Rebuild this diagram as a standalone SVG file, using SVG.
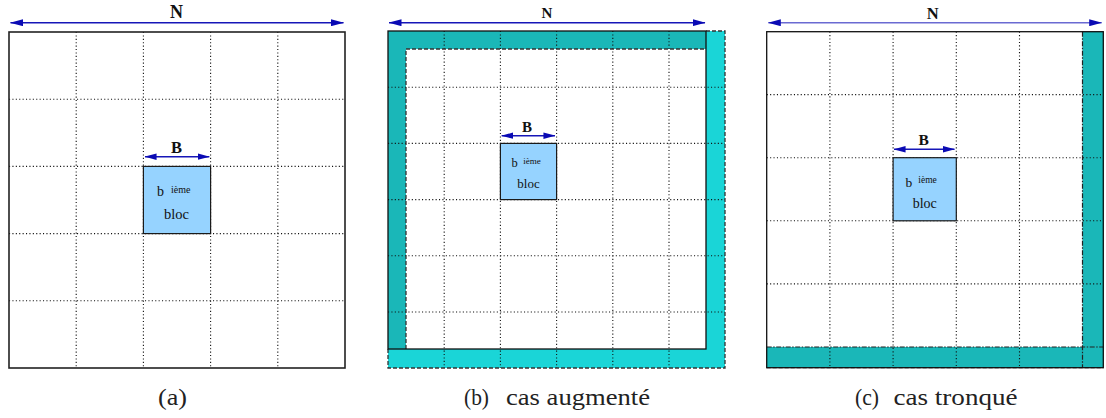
<svg xmlns="http://www.w3.org/2000/svg" width="1106" height="418" viewBox="0 0 1106 418">
<defs>
<marker id="ah" viewBox="0 0 13 7" refX="12.5" refY="3.5" markerWidth="13" markerHeight="7" markerUnits="userSpaceOnUse" orient="auto-start-reverse">
<path d="M0,0 L13,3.5 L0,7 z" fill="#0a0ab4"/>
</marker>
<marker id="ahs" viewBox="0 0 13 7" refX="12.5" refY="3.5" markerWidth="12" markerHeight="6.5" markerUnits="userSpaceOnUse" orient="auto-start-reverse">
<path d="M0,0 L13,3.5 L0,7 z" fill="#0a0ab4"/>
</marker>
</defs>
<style>
.bg{fill:#ffffff}
.grid{stroke:#111;stroke-width:1.1;stroke-dasharray:1.1 2.3;fill:none}
.frame{fill:none;stroke:#222;stroke-width:1.6}
.solid{fill:none;stroke:#111;stroke-width:1.3}
.dash{fill:none;stroke:#333;stroke-width:1.3;stroke-dasharray:4 2}
.dashdot{fill:none;stroke:#222;stroke-width:1.2;stroke-dasharray:5 1.5 1.5 1.5}
.dark{fill:#1ab7b8}
.light{fill:#1ad5d7}
.blk{fill:#96d3ff;stroke:#1a1a1a;stroke-width:1.2}
.arr{stroke:#1616b8;stroke-width:1.6;fill:none;marker-start:url(#ah);marker-end:url(#ah)}
.arrB{stroke:#1616b8;stroke-width:1.6;fill:none;marker-start:url(#ahs);marker-end:url(#ahs)}
.lbl{font-family:"Liberation Serif",serif;font-weight:bold;fill:#111;text-anchor:middle}
.t{font-family:"Liberation Serif",serif;fill:#111}
.cap{font-family:"Liberation Serif",serif;fill:#222;font-size:24px}
</style>
<rect width="1106" height="418" class="bg"/>

<!-- Panel (a) -->
<g id="panel-a">
<g id="grid-a" class="grid">
<line x1="76.2" y1="32" x2="76.2" y2="368"/>
<line x1="143.4" y1="32" x2="143.4" y2="368"/>
<line x1="210.6" y1="32" x2="210.6" y2="368"/>
<line x1="277.8" y1="32" x2="277.8" y2="368"/>
<line x1="9" y1="99.2" x2="345" y2="99.2"/>
<line x1="9" y1="166.4" x2="345" y2="166.4"/>
<line x1="9" y1="233.6" x2="345" y2="233.6"/>
<line x1="9" y1="300.8" x2="345" y2="300.8"/>
</g>
<rect class="frame" x="9" y="32" width="336" height="336"/>
<g id="block-a">
<rect class="blk" x="143.4" y="166.4" width="67.2" height="67.2"/>
<text class="t" x="157" y="196" font-size="14">b</text>
<text class="t" x="171" y="192.5" font-size="10">ième</text>
<text class="t" x="176.5" y="219" font-size="14.5" text-anchor="middle">bloc</text>
</g>
<text class="cap" x="158" y="405" textLength="29" lengthAdjust="spacingAndGlyphs">(a)</text>
</g>

<!-- Panel (b) -->
<g id="panel-b">
<rect class="dark" x="388" y="31" width="318" height="18"/>
<rect class="dark" x="388" y="31" width="18" height="318"/>
<rect class="light" x="706" y="31" width="19" height="337"/>
<rect class="light" x="388" y="349" width="337" height="19"/>
<g id="grid-b" class="grid">
<line x1="444.2" y1="31" x2="444.2" y2="368"/>
<line x1="500.4" y1="31" x2="500.4" y2="368"/>
<line x1="556.6" y1="31" x2="556.6" y2="368"/>
<line x1="612.8" y1="31" x2="612.8" y2="368"/>
<line x1="669" y1="31" x2="669" y2="368"/>
<line x1="388" y1="87.2" x2="725" y2="87.2"/>
<line x1="388" y1="143.4" x2="725" y2="143.4"/>
<line x1="388" y1="199.6" x2="725" y2="199.6"/>
<line x1="388" y1="255.8" x2="725" y2="255.8"/>
<line x1="388" y1="312" x2="725" y2="312"/>
</g>
<path class="dash" d="M406,349 L406,49 L706,49"/>
<path class="dash" d="M706,31 L725,31 L725,368 L388,368 L388,349"/>
<rect class="solid" x="388" y="31" width="318" height="318"/>
<g id="block-b">
<rect class="blk" x="500.4" y="143.4" width="56.2" height="56.2"/>
<text class="t" x="511.5" y="167" font-size="12.5">b</text>
<text class="t" x="523.3" y="163.5" font-size="9">ième</text>
<text class="t" x="528.5" y="187.5" font-size="13" text-anchor="middle">bloc</text>
</g>
<text class="cap" x="464" y="405"><tspan textLength="25" lengthAdjust="spacingAndGlyphs">(b)</tspan><tspan x="506" textLength="144" lengthAdjust="spacingAndGlyphs">cas augmenté</tspan></text>
</g>

<!-- Panel (c) -->
<g id="panel-c">
<rect class="dark" x="1082.5" y="31.7" width="20.8" height="336"/>
<rect class="dark" x="766.7" y="347" width="336.6" height="20.7"/>
<g id="grid-c" class="grid">
<line x1="829.9" y1="31.7" x2="829.9" y2="367.7"/>
<line x1="893.1" y1="31.7" x2="893.1" y2="367.7"/>
<line x1="956.3" y1="31.7" x2="956.3" y2="367.7"/>
<line x1="1019.5" y1="31.7" x2="1019.5" y2="367.7"/>
<line x1="766.7" y1="94.6" x2="1103.3" y2="94.6"/>
<line x1="766.7" y1="157.7" x2="1103.3" y2="157.7"/>
<line x1="766.7" y1="220.8" x2="1103.3" y2="220.8"/>
<line x1="766.7" y1="283.9" x2="1103.3" y2="283.9"/>
</g>
<line class="dashdot" x1="1082.5" y1="31.7" x2="1082.5" y2="367.7"/>
<line class="dashdot" x1="766.7" y1="347" x2="1103.3" y2="347"/>
<line class="dash" x1="766.7" y1="367.7" x2="1103.3" y2="367.7"/>
<rect class="solid" x="766.7" y="31.7" width="336.6" height="336"/>
<g id="block-c">
<rect class="blk" x="893.1" y="157.7" width="63.2" height="63.1"/>
<text class="t" x="905.5" y="187" font-size="13.5">b</text>
<text class="t" x="918.3" y="183" font-size="9.5">ième</text>
<text class="t" x="924.7" y="207.5" font-size="14" text-anchor="middle">bloc</text>
</g>
<text class="cap" x="855" y="405"><tspan textLength="24" lengthAdjust="spacingAndGlyphs">(c)</tspan><tspan x="893.5" textLength="124" lengthAdjust="spacingAndGlyphs">cas tronqué</tspan></text>
</g>

<!-- Dimension connectors -->
<g id="connectors">
<line class="arr" x1="10.5" y1="22.7" x2="343.5" y2="22.7"/>
<line class="arrB" x1="145" y1="156.7" x2="209.3" y2="156.7"/>
<line class="arr" x1="389" y1="22.7" x2="705" y2="22.7"/>
<line class="arrB" x1="501.7" y1="135.7" x2="555" y2="135.7"/>
<line class="arr" x1="768.3" y1="22.7" x2="1101.7" y2="22.7" style="stroke:#6a6ad2"/>
<line class="arrB" x1="894" y1="149.3" x2="954.5" y2="149.3"/>
</g>
<g id="labels">
<text class="lbl" x="176.5" y="18" font-size="18">N</text>
<text class="lbl" x="176.5" y="152.7" font-size="16.5">B</text>
<text class="lbl" x="547" y="18.3" font-size="15">N</text>
<text class="lbl" x="527" y="131.7" font-size="15">B</text>
<text class="lbl" x="932.8" y="19" font-size="16.5">N</text>
<text class="lbl" x="923.7" y="145" font-size="15.5">B</text>
</g>
</svg>
